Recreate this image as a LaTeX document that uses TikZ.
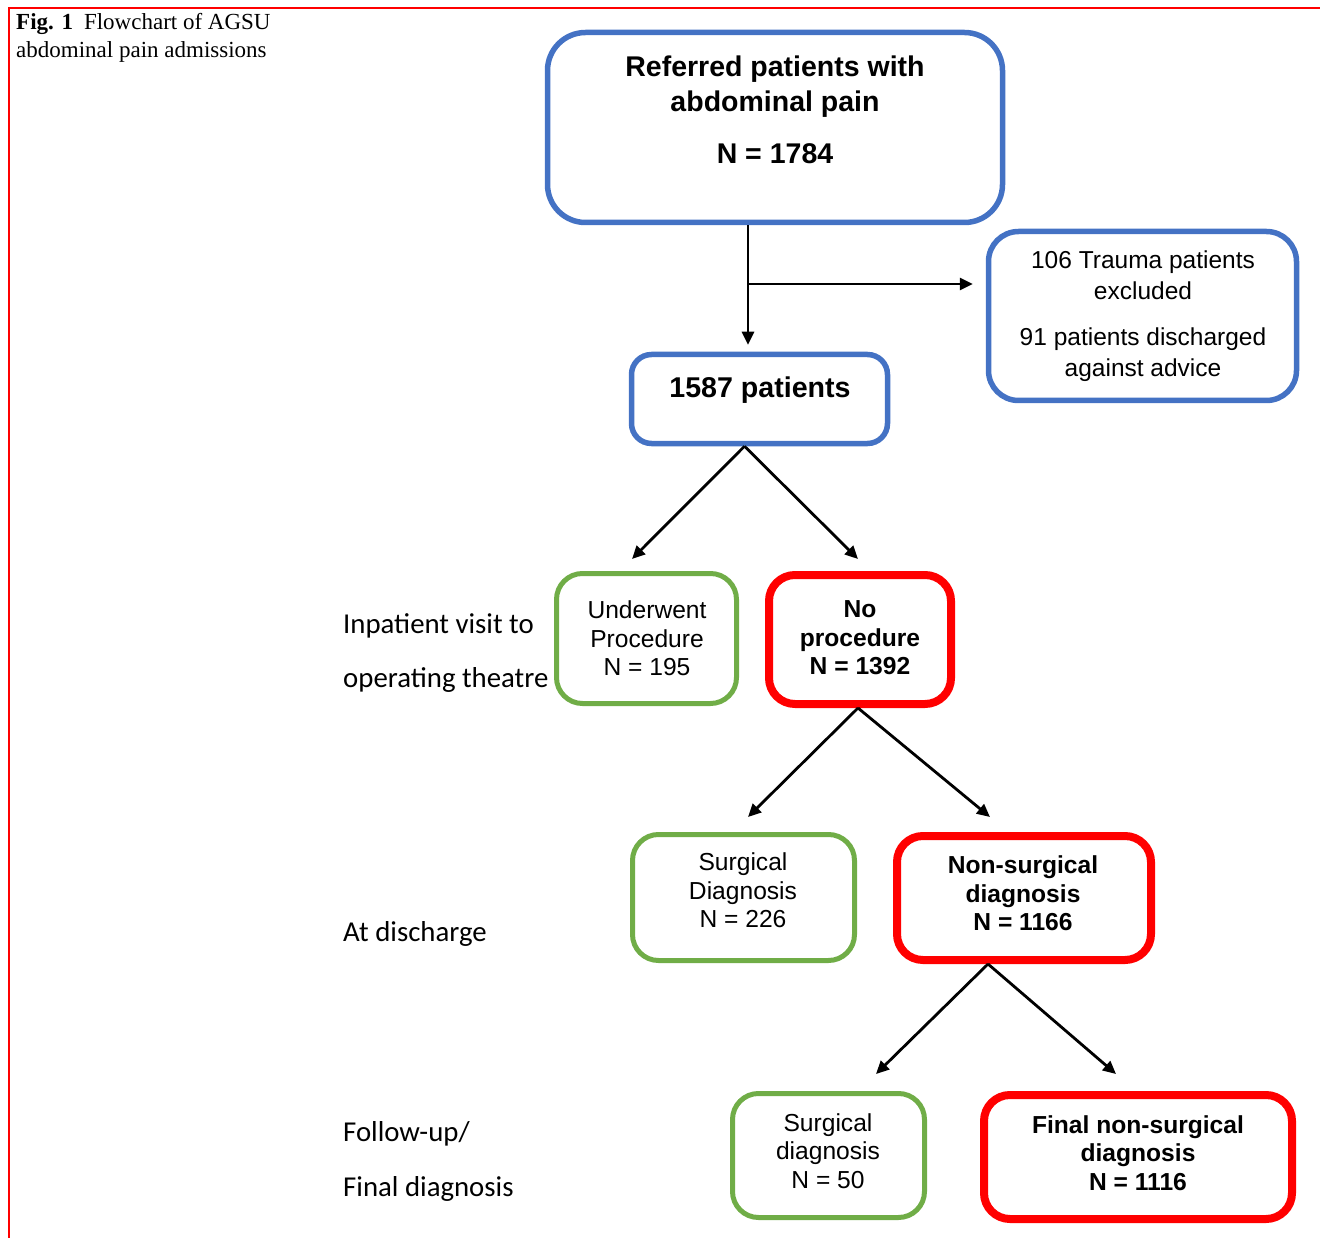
\documentclass[tikz,border=0pt]{standalone}
\usepackage{fontspec}
\setmainfont{Liberation Serif}
\newfontfamily\arialf{Liberation Sans}
\newfontfamily\calf{Carlito}
\usetikzlibrary{arrows.meta}
\definecolor{boxblue}{HTML}{4472C4}
\definecolor{boxgreen}{HTML}{70AD47}
\definecolor{boxred}{HTML}{FF0000}
\begin{document}
\begin{tikzpicture}[x=1pt,y=-1pt,
  box/.style={draw, rectangle, rounded corners=26pt, inner sep=0pt},
  bluebox/.style={box, draw=boxblue, line width=5.5pt},
  greenbox/.style={box, draw=boxgreen, line width=5pt},
  redbox/.style={box, draw=boxred, line width=8pt},
  txt/.style={font=\arialf\fontsize{24.6}{28.5}\selectfont, align=center, inner sep=0pt},
  btxt/.style={txt, font=\arialf\bfseries\fontsize{24.6}{28.5}\selectfont},
  side/.style={font=\calf\fontsize{28.8}{30}\selectfont, anchor=base west, inner sep=0pt},
  capt/.style={font=\fontsize{23}{28}\selectfont, anchor=base west, inner sep=0pt},
  arr/.style={draw=black, line width=2.8pt, -{Triangle[length=13pt,width=12pt]}},
]
\useasboundingbox (0,0) rectangle (1320,1238);
% frame
\draw[boxred, line width=2.3pt] (9,1238) -- (9,8) -- (1320,8);
% caption
\node[capt] (cap1) at (16,29.5) {\textbf{Fig. 1}\hspace{11pt}Flowchart of AGSU};
\node[capt] (cap2) at (16,57.5) {abdominal pain admissions};

% boxes
\node[bluebox, rounded corners=38pt, minimum width=455pt, minimum height=190pt] (b1) at (775,127.5) {};
\node[bluebox, rounded corners=30pt, minimum width=308pt, minimum height=169pt] (b3) at (1142.5,316) {};
\node[bluebox, rounded corners=20pt, minimum width=256pt, minimum height=89pt] (b2) at (759.5,399) {};
\node[greenbox, minimum width=180pt, minimum height=130pt] (b4) at (646.5,638.5) {};
\node[redbox, minimum width=182pt, minimum height=129pt] (b5) at (860,639.5) {};
\node[greenbox, minimum width=222pt, minimum height=126pt] (b6) at (743.5,897.5) {};
\node[redbox, minimum width=254pt, minimum height=124pt] (b7) at (1024,898) {};
\node[greenbox, minimum width=192pt, minimum height=124pt] (b8) at (828.5,1155.5) {};
\node[redbox, minimum width=308pt, minimum height=124pt] (b9) at (1138,1157) {};

% box texts
\node[btxt, font=\arialf\bfseries\fontsize{28.5}{35}\selectfont] (t1) at (775,110) {Referred patients with\\abdominal pain\\[17pt]N = 1784};
\node[txt, font=\arialf\fontsize{24.5}{31}\selectfont] (t3) at (1143,316) {106 Trauma patients\\excluded\\[15pt]91 patients discharged\\against advice};
\node[btxt, font=\arialf\bfseries\fontsize{28.6}{32}\selectfont] (t2) at (760,390) {1587 patients};
\node[txt] (t4) at (647,638.5) {Underwent\\Procedure\\N = 195};
\node[btxt] (t5) at (860,638) {No\\procedure\\N = 1392};
\node[txt] (t6) at (743,890.5) {Surgical\\Diagnosis\\N = 226};
\node[btxt] (t7) at (1023,893.5) {Non-surgical\\diagnosis\\N = 1166};
\node[txt] (t8) at (828,1151) {Surgical\\diagnosis\\N = 50};
\node[btxt] (t9) at (1138,1153) {Final non-surgical\\diagnosis\\N = 1116};

% side labels
\node[side] (s1) at (343,633) {Inpatient visit to};
\node[side] (s2) at (343,687) {operating theatre};
\node[side] (s3) at (343,941) {At discharge};
\node[side] (s4) at (343,1141) {Follow-up/};
\node[side] (s5) at (343,1196) {Final diagnosis};

% connectors
\coordinate (j1) at (748,284);
\draw[line width=2.8pt] (b1.south -| j1) -- (j1);
\draw[arr, shorten >=7pt] (b1.south -| j1) -- (b2.north -| j1);
\draw[arr, shorten >=13pt] (j1) -- (b3.west |- j1);

\coordinate (e1) at (632,559);
\coordinate (e2) at (858,559);
\draw[arr] ([xshift=-15pt]b2.south) -- (e1);
\draw[arr] ([xshift=-15pt]b2.south) -- (e2);

\coordinate (e3) at (748,817);
\coordinate (e4) at (990,817);
\draw[arr] ([xshift=-2pt]b5.south) -- (e3);
\draw[arr] ([xshift=-2pt]b5.south) -- (e4);

\coordinate (e5) at (876,1074);
\coordinate (e6) at (1116,1074);
\draw[arr] ([xshift=-36pt]b7.south) -- (e5);
\draw[arr] ([xshift=-36pt]b7.south) -- (e6);
\end{tikzpicture}
\end{document}
